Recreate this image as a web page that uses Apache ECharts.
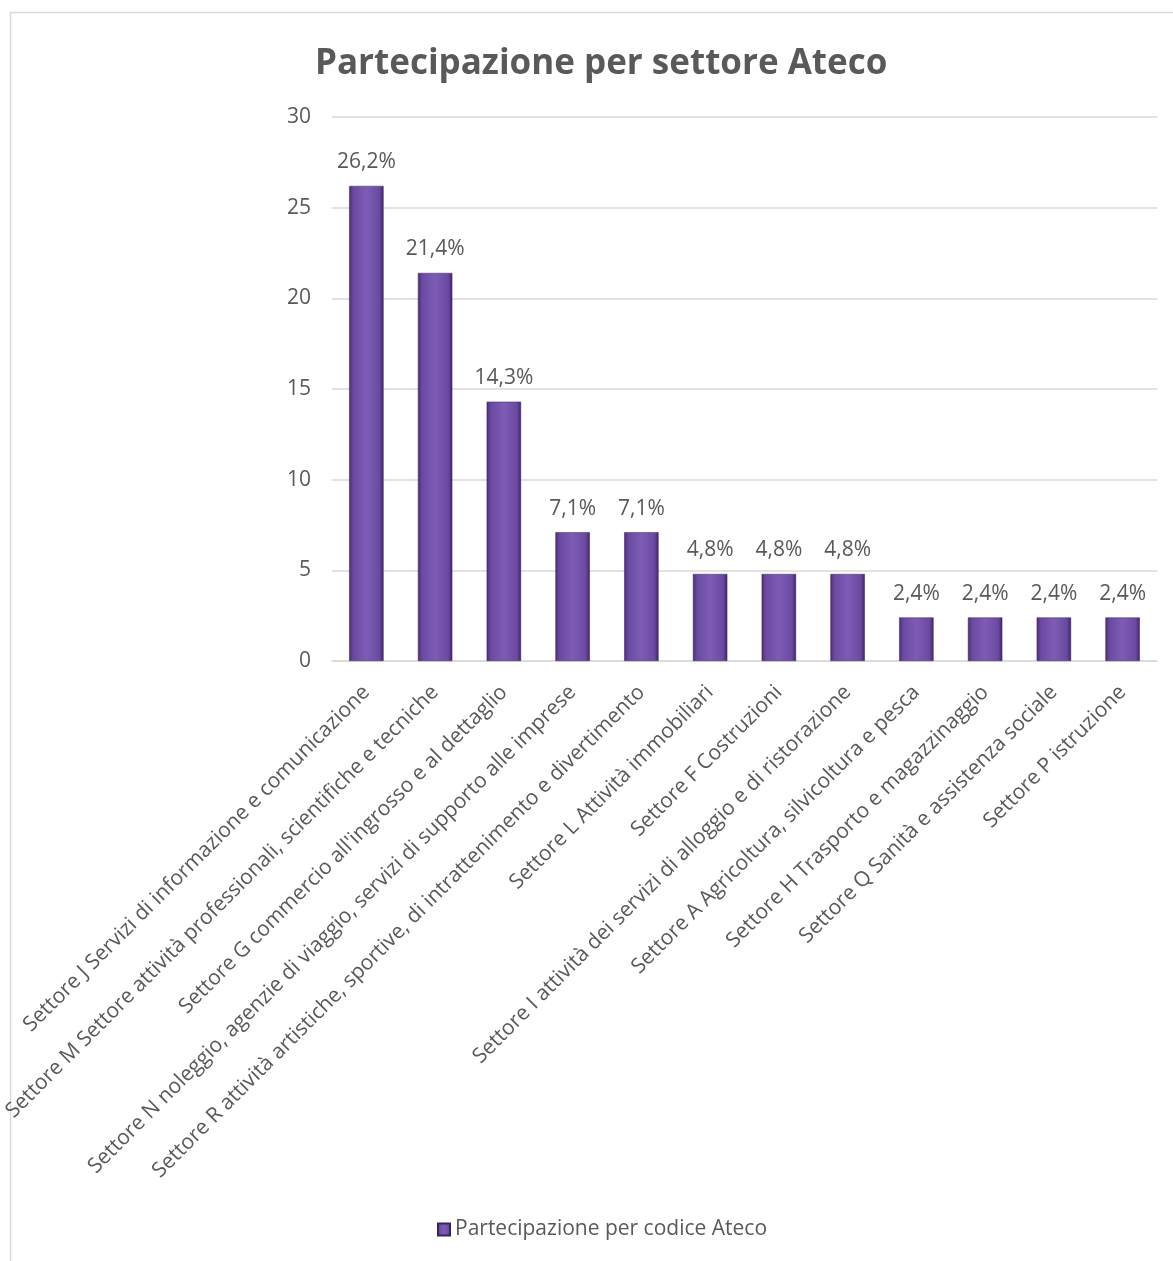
<!DOCTYPE html>
<html>
<head>
<meta charset="utf-8">
<script src="https://cdn.jsdelivr.net/npm/echarts@6/dist/echarts.min.js"></script>
<style>html,body{margin:0;padding:0;background:#fff}#c{width:1173px;height:1261px}</style>
</head>
<body>
<div id="c"></div>
<script>
const categories = [
  "Settore J Servizi di informazione e comunicazione",
  "Settore M Settore attività professionali, scientifiche e tecniche",
  "Settore G commercio all'ingrosso e al dettaglio",
  "Settore N noleggio, agenzie di viaggio, servizi di supporto alle imprese",
  "Settore R attività artistiche, sportive, di intrattenimento e divertimento",
  "Settore L Attività immobiliari",
  "Settore F Costruzioni",
  "Settore I attività dei servizi di alloggio e di ristorazione",
  "Settore A Agricoltura, silvicoltura e pesca",
  "Settore H Trasporto e magazzinaggio",
  "Settore Q Sanità e assistenza sociale",
  "Settore P istruzione"
];
const values = [26.2, 21.4, 14.3, 7.1, 7.1, 4.8, 4.8, 4.8, 2.4, 2.4, 2.4, 2.4];
const yTicks = { min: 0, max: 30, interval: 5 };
const seriesName = "Partecipazione per codice Ateco";
const titleText = "Partecipazione per settore Ateco";

const FONT = "Open Sans";
const chart = echarts.init(document.getElementById('c'));
const barGrad = new echarts.graphic.LinearGradient(0, 0, 1, 0, [
  { offset: 0, color: '#4a2c78' },
  { offset: 0.12, color: '#6a4aa0' },
  { offset: 0.5, color: '#7e5cb6' },
  { offset: 0.88, color: '#6a4aa0' },
  { offset: 1, color: '#3f2468' }
]);
chart.setOption({
  backgroundColor: '#fff',
  textStyle: { fontFamily: FONT },
  title: {
    text: titleText,
    left: 310,
    top: 42,
    textStyle: { fontFamily: FONT, fontSize: 35, fontWeight: 'bold', color: '#595959' }
  },
  graphic: [{
    type: 'rect', silent: true, z: -1,
    shape: { x: 10.5, y: 12.5, width: 1200, height: 1300 },
    style: { fill: 'none', stroke: '#d9d9d9', lineWidth: 1.5 }
  }],
  legend: {
    bottom: 16,
    left: 432,
    itemWidth: 12, itemHeight: 12, itemGap: 6,
    icon: 'rect',
    textStyle: { fontFamily: FONT, fontSize: 21, color: '#595959' },
    data: [seriesName]
  },
  grid: { left: 330, right: 16, top: 117, bottom: 600, containLabel: false },
  xAxis: {
    type: 'category',
    data: categories,
    axisLine: { lineStyle: { color: '#d9d9d9', width: 1.5 } },
    axisTick: { show: false },
    axisLabel: {
      interval: 0, rotate: 45, margin: 28,
      fontFamily: FONT, fontSize: 21, color: '#595959'
    }
  },
  yAxis: {
    type: 'value',
    min: yTicks.min, max: yTicks.max, interval: yTicks.interval,
    axisLine: { show: false },
    axisTick: { show: false },
    splitLine: { lineStyle: { color: '#d9d9d9', width: 1.5 } },
    axisLabel: { margin: 21, fontFamily: FONT, fontSize: 21, color: '#595959' }
  },
  series: [{
    name: seriesName,
    type: 'bar',
    data: values,
    barWidth: '50%',
    itemStyle: { color: barGrad, borderColor: '#3a2260', borderWidth: 0.5 },
    label: {
      show: true, position: 'top', distance: 13,
      fontFamily: FONT, fontSize: 21, color: '#595959',
      formatter: p => p.value.toFixed(1).replace('.', ',') + '%'
    }
  }]
});
</script>
</body>
</html>
